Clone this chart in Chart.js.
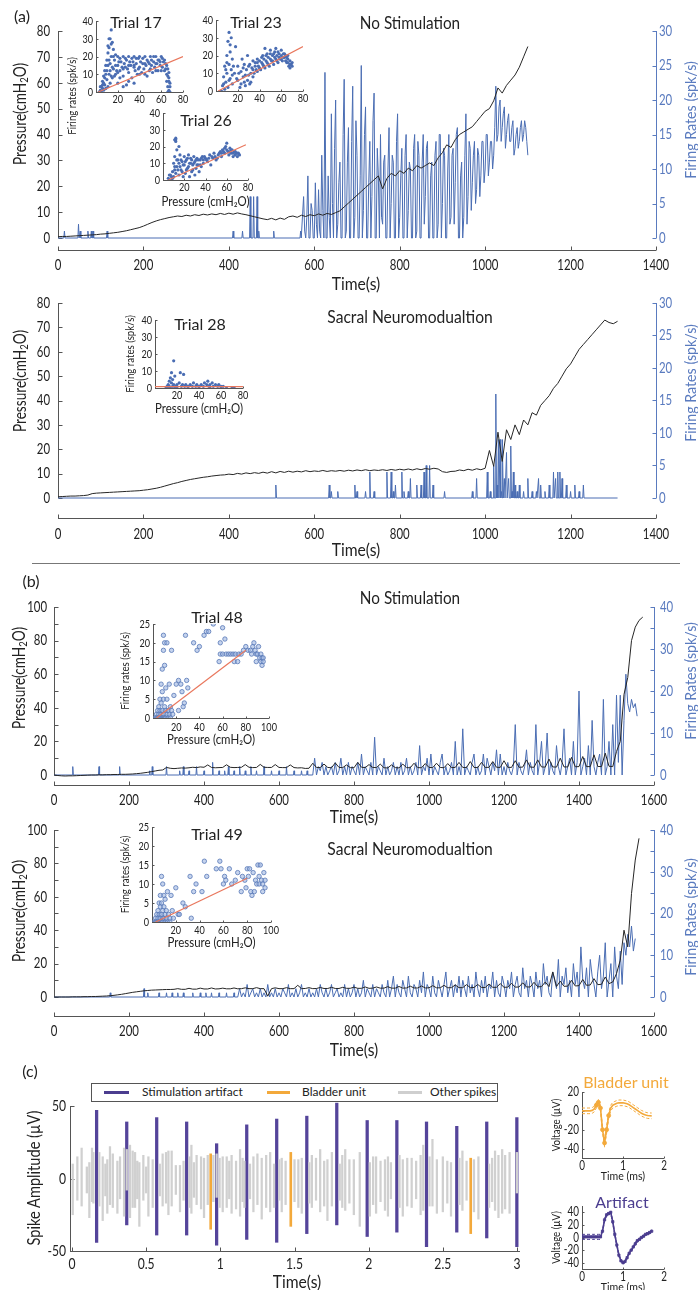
<!DOCTYPE html>
<html><head><meta charset="utf-8">
<script src="https://cdn.jsdelivr.net/npm/chart.js@4.4.1/dist/chart.umd.min.js"></script>
<style>
html,body{margin:0;padding:0;background:#fff;}
body{position:relative;width:698px;height:1290px;overflow:hidden;font-family:Lato,sans-serif;color:#222;}
canvas{position:absolute;}
.t{position:absolute;white-space:nowrap;line-height:1;transform:translate(-50%,-50%) scaleX(var(--k,1));}
.r{transform:translate(-50%,-50%) rotate(-90deg) scaleX(var(--k,1));}
sub{font-size:70%;vertical-align:-0.25em;line-height:0;}
#sep{position:absolute;left:32px;top:563px;width:648px;height:1px;background:#777;}
#leg{position:absolute;left:91px;top:1083px;width:405px;height:17px;border:1px solid #555;}
.lg{position:absolute;top:7px;height:3px;}
.lt{position:absolute;top:2px;font-size:12px;line-height:1;}
</style></head><body>
<div id="sep"></div>
<div id="leg">
 <div class="lg" style="left:12px;width:25px;background:#4b3d8f"></div><div class="lt" style="left:50px">Stimulation artifact</div>
 <div class="lg" style="left:175px;width:23px;background:#f3a93b"></div><div class="lt" style="left:210px">Bladder unit</div>
 <div class="lg" style="left:306px;width:24px;background:#cfcfcf"></div><div class="lt" style="left:338px">Other spikes</div>
</div>
<script>
const F = "Lato, sans-serif";
const KNUM = 0.76, KTXT = 0.88;   // horizontal text condensing for canvas labels
const AX = '#555', BLUE_AX = '#5a7bbf', BLACK = '#262626', BLUE = '#4a6db3', RED = '#e9775d', DOT = '#4a6db3';
const ORANGE = '#f3a93b', PURPLE = '#4b3d8f', GRAY = '#d0d0d0';

// ---------------- tick labels ----------------
const A_X_TICKS = [0,200,400,600,800,1000,1200,1400];
const A_P_TICKS = [0,10,20,30,40,50,60,70,80];
const A_R_TICKS = [0,5,10,15,20,25,30];
const B_X_TICKS = [0,200,400,600,800,1000,1200,1400,1600];
const B_P_TICKS = [0,20,40,60,80,100];
const B_P_MARKS = [0,10,20,30,40,50,60,70,80,90,100];
const B_R_TICKS = [0,10,20,30,40];
const B_R_MARKS = [0,5,10,15,20,25,30,35,40];
const C_X_TICKS = [0,0.5,1,1.5,2,2.5,3];
const C_Y_TICKS = [-50,0,50];
const INA_X = [20,40,60,80], INA_Y = [0,10,20,30,40];
const INB_X = [20,40,60,80,100], INB_Y = [0,5,10,15,20,25];
const W_X_TICKS = [0,1,2], BL_Y_TICKS = [-40,-20,0,20], AR_Y_TICKS = [-40,-20,0,20,40];

// ---------------- (a) No stimulation ----------------
const A1_PRESSURE = [ // every 10 s from 0
0.5,0.6,0.6,0.7,0.8,0.9,1.0,1.1,1.2,1.3, 1.5,1.6,1.8,2.0,2.2,2.5,2.8,3.2,3.6,4.0,
4.6,5.3,6.0,6.6,7.1,7.5,7.9,8.2,8.5,8.3, 8.8,8.5,9.0,8.7,9.2,8.9,9.3,9.0,9.5,9.1,
9.6,9.2,9.7,9.3,9.0,8.6,8.2,7.8,7.4,7.1, 7.6,7.0,7.7,7.2,8.2,8.5,8.0,8.8,8.3,9.0,
8.6,9.3,8.8,9.5,9.1,9.8,10.5,12,13.5,15, 16.5,18,19.5,21,22.5,24,19,23,25,24,
26,25,27,26,28,27,28,29,28,31, 33,36,35,38,40,41,42,43,45,47,
49,50,53,58,56,59,61,63,66,70, 74];
const A1_RATE_SPIKES = [[15,1],[48,2],[52,1],[70,1],[78,1],[82,1],[115,1],[410,1],[432,1],[450,6],[458,6],[466,6],[470,1],[505,1],[568,1]];
const A1_RATE_DENSE = [ // every 2.5 s from 575
6,1,0,3,9,0,0,5,4,0, 0,8,2,0,7,1,0,12,4,0,
24,0,0,9,3,0,18,5,0,13, 20,0,2,8,11,0,0,15,23,0,
1,11,16,0,0,14,22,0,3,17, 12,0,0,9,25,0,4,15,19,0,
0,8,14,0,6,17,21,0,0,13, 9,0,15,3,2,11,12,0,0,10,
16,0,5,12,11,0,0,14,18,0, 3,9,13,0,0,12,15,0,4,11,
10,0,0,13,15,0,1,14,12,0, 0,11,15,2,6,13,14,0,0,9,
11,0,0,12,14,0,2,15,15,0, 5,13,12,0,0,10,15,2,3,12,
13,2,8,15,16,0,0,9,11,0, 3,12,18,2,6,14,13,4,8,12,
14,5,7,13,12,6,9,14,14,8, 10,15,15,9,11,14,14,10,12,16,
22,14,15,19,20,14,16,18,19,13, 15,17,18,14,14,16,17,12,13,15,
16,13,14,16,17,14,15,17,16,14, 12];

// ---------------- (a) Sacral neuromodulation ----------------
const A2_PRESSURE = [ // every 10 s from 0
0.5,0.6,0.7,0.8,0.8,0.9,1.0,1.2,1.8,2.0, 2.1,2.2,2.3,2.4,2.5,2.6,2.7,2.8,2.9,3.0,
3.2,3.4,3.7,4.0,4.4,4.9,5.4,5.9,6.3,6.8, 7.2,7.6,7.9,8.2,8.5,8.7,9.0,9.2,9.4,9.5,
9.8,9.6,10.1,9.8,10.3,10.0,10.4,10.1,10.6,10.2, 10.8,10.3,10.9,10.5,11.0,10.6,11.0,10.7,11.2,10.8,
11.1,10.9,11.3,10.9,11.2,11.0,11.3,11.0,11.4,11.1, 11.5,11.2,11.6,11.2,11.5,11.3,11.6,11.3,11.7,11.4,
11.8,11.5,11.9,11.5,12.0,11.6,12.1,11.8,12.2,11.9, 10.8,10.5,10.9,11.0,11.5,11.2,11.8,11.4,12.0,11.6,
12.2,19.5,13,27,15,28,24,30,26,32, 30,35,34,38,40,42,45,47,50,53,
55,58,61,63,65,67,69,71,73,72, 71.5,72.5];
const A2_RATE_SPIKES = [[510,2],[635,2],[640,1],[655,1],[695,2],[700,1],[720,1],[730,4],[740,1],[770,4],[780,4],[785,1],[790,2],[805,4],[810,1],[820,1],[825,3],[840,2],[850,2],[857,4],[862,5],[870,5],[878,2],[905,1],[970,1],[980,3],[1005,4],[1012,1],[1020,5],[1025,16],[1028,2],[1031,9],[1035,9],[1038,1],[1041,9],[1045,3],[1050,7],[1055,3],[1060,8],[1063,1],[1066,4],[1070,2],[1075,1],[1080,2],[1090,1],[1100,3],[1110,1],[1120,1],[1125,3],[1130,2],[1140,1],[1150,2],[1160,4],[1165,3],[1170,4],[1175,4],[1180,3],[1190,2],[1200,1],[1210,2],[1220,1],[1230,2]];
const A2_RATE_END = 1310;

// ---------------- (b) No stimulation ----------------
const B1_PRESSURE = [ // every 10 s from 0
0,-0.3,-0.5,-0.6,-0.5,-0.5,-0.4,-0.3,-0.2,-0.1, 0,0,0.1,0.1,0.2,0.2,0.3,0.3,0.4,0.4,
0.5,0.6,0.8,1.0,1.3,1.6,2.0,2.4,2.8,3.0, 4.5,4.0,3.8,4.0,4.2,4.1,4.3,4.6,4.4,4.8,
4.6,6.0,4.5,4.3,4.4,4.5,6.1,4.6,4.4,4.5, 4.6,6.2,4.6,4.4,4.5,6.3,4.6,4.5,4.5,6.2,
4.5,4.4,4.4,6.0,4.4,4.2,4.3,3.9,4.0,7.0, 4.5,4.4,6.5,4.5,4.3,7.2,4.5,4.4,6.0,4.4,
4.3,7.5,4.6,4.4,6.2,4.5,4.4,6.5,4.3,4.2, 6.0,4.4,4.2,6.5,4.4,4.3,7.0,4.4,4.3,6.8,
4.5,4.4,7.0,4.5,4.3,6.8,4.4,4.5,7.5,4.5, 4.4,8.0,4.5,4.4,7.5,4.5,4.6,8.0,4.6,4.5,
8.5,4.6,4.5,8.5,4.6,4.7,9.0,4.7,4.6,9.0, 4.8,4.7,9.5,4.8,4.7,10,4.8,4.8,10.5,4.9,
5.0,11,5.0,5.0,12,5.1,5.0,13,5.2,5.0, 14,20,48,58,80,88,92,94];
const B1_RATE_SPIKES = [[50,2],[120,2],[175,2],[255,1],[262,2],[300,2],[335,1],[345,2],[360,1],[380,2],[400,1],[423,3],[440,1],[455,1],[465,2],[480,1],[495,2],[510,1],[525,2],[540,1],[560,2],[580,1],[600,1],[620,2],[640,1],[660,1],[675,1]];
const B1_RATE_DENSE = [ // every 5 s from 690
0,4,0,2,1,3,0,2,0,1, 2,0,3,0,1,4,0,2,0,3,
0,2,1,0,3,0,5,0,2,1, 0,3,0,9,0,2,1,0,4,0,
2,0,1,3,0,2,0,3,0,1, 4,0,2,0,1,3,0,7,0,2,
1,4,0,5,0,2,1,0,3,5, 0,2,0,1,3,0,8,0,2,0,
11,0,2,1,0,3,5,0,2,0, 1,5,0,4,2,0,3,1,6,0,
5,0,2,0,3,1,0,2,12,0, 3,1,0,2,6,0,3,1,0,12,
0,3,8,0,2,10,0,3,1,0, 7,2,0,3,11,0,2,4,0,8,
0,3,20,0,2,4,0,7,0,13, 2,0,3,5,0,18,0,2,8,0,
12,0,19,3,19,0,13,24,17,15,18,16,17,14];

// ---------------- (b) Sacral neuromodulation ----------------
const B2_PRESSURE = [ // every 10 s from 0
0,0,0,0,0,0.1,0.1,0.1,0.2,0.2, 0.3,0.3,0.4,0.5,0.6,0.8,1.0,1.3,1.6,2.0,
2.4,2.8,3.1,3.4,3.7,3.9,4.1,4.2,4.3,4.4, 4.5,4.5,4.6,5.0,4.6,4.6,5.2,4.7,4.7,5.3,
4.8,4.8,5.4,4.8,4.9,5.3,4.9,4.9,5.4,4.9, 5.0,5.5,5.0,5.0,5.6,5.0,5.0,0.5,5.0,5.5,
5.0,5.0,5.6,5.0,5.0,7.0,5.0,5.1,5.6,5.0, 5.1,5.7,5.1,5.1,5.8,5.1,5.1,5.8,5.2,5.2,
5.9,5.2,5.2,6.0,5.2,5.3,6.0,5.3,5.3,6.2, 5.3,5.3,6.3,5.3,5.4,6.5,5.4,5.4,6.6,5.4,
5.5,6.8,5.5,5.5,7.0,5.5,5.6,7.2,5.6,5.6, 7.4,5.6,5.7,7.5,5.7,5.7,7.8,5.8,5.8,8.0,
5.8,5.9,8.2,5.9,6.0,8.5,6.0,6.0,8.8,6.1, 6.2,9.0,6.2,15,6.3,9.5,6.4,6.5,10,6.6,
6.8,10.5,7.0,7.2,11,7.4,7.6,12,8,9, 14,22,40,30,62,82,95];
const B2_RATE_SPIKES = [[150,1],[240,2],[250,1],[280,1],[300,1],[315,1],[330,1],[345,1],[370,1],[390,1],[405,1],[420,1],[440,1],[460,1],[480,1]];
const B2_RATE_DENSE = [ // every 5 s from 490
0,2,0,1,0,3,0,1,2,0, 1,0,2,0,1,0,3,0,1,0,
2,0,1,0,2,1,0,3,0,1, 0,2,0,1,3,0,1,0,2,0,
1,0,2,0,3,1,0,2,0,1, 3,0,1,2,0,1,0,3,0,2,
0,1,3,0,2,0,1,4,0,2, 1,0,3,0,2,1,0,3,1,0,
4,0,2,5,0,3,1,0,4,2, 0,5,1,0,3,2,0,4,1,6,
0,3,2,0,5,1,0,4,2,0, 3,6,0,2,4,0,3,1,5,0,
4,2,0,5,1,3,0,6,2,0, 4,1,5,0,3,2,6,0,4,1,
0,5,3,0,4,2,6,0,3,5, 1,0,7,2,4,0,5,3,0,6,
2,4,0,8,3,5,1,0,6,4, 2,9,0,5,3,7,1,4,0,8,
3,6,0,12,4,2,7,0,9,5, 3,0,6,10,2,5,13,0,4,8,
0,12,5,2,11,3,13,10,15,12,17,11,14];

// ---------------- insets: [pressure, firing rate] ----------------
const T17_PTS = [[3,0],[4,1],[5,0],[5,3],[6,2],[6,6],[7,1],[7,9],[8,4],[8,12],[9,2],[9,15],[10,7],[10,18],[11,3],[11,22],[12,10],[12,25],[13,5],[13,30],[13,16],[14,35],[14,20],[15,8],[15,28],[16,13],[16,24],[17,18],[18,10],[18,21],
[20,15],[20,20],[22,12],[23,17],[25,20],[25,9],[27,14],[28,18],[30,11],[30,20],[32,15],[33,8],[34,17],[35,20],[36,12],[37,16],[38,10],[39,19],[40,14],[40,20],[42,11],[43,16],[44,13],[45,20],[46,15],[47,9],[48,17],[49,12],[50,20],[51,15],[52,11],[53,17],[54,14],[55,20],[56,16],[57,12],[58,18],[59,15],[60,20],[61,14],[62,17],[63,12],[64,16],
[65,10],[65,6],[66,13],[66,3],[67,8],[67,1],[68,5],[68,0],[66,0],[67,11],[65,15],[20,5],[25,3],[30,6],[35,5],[22,8],[28,4],
[4,3],[6,4],[7,5],[8,8],[9,10],[10,12],[11,15],[12,18],[13,12],[14,9],[15,14],[16,20],[17,9],[18,15],[19,12],[21,17],[22,19],[24,14],[26,16],[27,19],[29,13],[31,17],[33,19],[35,15],[37,19],[39,13],[41,17],[43,19],[45,16],[47,18],[49,16],[51,18],[53,20],[55,16],[57,18],[59,17],[61,19],[63,18],[64,13],[66,9],[67,6],[68,3],[60,12],[55,12],[50,13],[45,10],[40,10],[35,14],[30,15],[25,13],[20,11],[12,30],[11,26],[14,27]];
const T17_FIT = [[2,0],[80,20]];
const T23_PTS = [[5,0],[6,3],[7,8],[8,1],[8,14],[9,5],[10,20],[10,10],[11,2],[11,28],[12,15],[12,33],[13,7],[13,22],[14,30],[14,12],[15,4],[15,18],[17,10],[18,25],[20,6],[20,14],[22,2],[23,11],[24,18],[25,8],[26,15],[27,3],[28,12],[29,20],[30,9],[31,15],[32,5],[33,13],[34,17],[35,10],[36,16],[37,12],[38,18],[39,14],[40,17],[41,12],[42,19],[43,15],[44,18],[45,13],[46,20],[47,16],[48,19],[49,14],[50,21],[51,17],[52,20],[53,15],[54,22],[55,18],[56,20],[57,16],[58,21],[59,18],[60,20],[61,17],[62,21],[63,19],[64,20],[65,16],[66,18],[67,14],[68,17],[69,15],[70,16],[68,13],[66,20],[60,23],[55,24],[50,23],[45,24],
[7,4],[9,12],[10,16],[12,6],[13,26],[15,9],[16,14],[19,7],[21,10],[23,4],[25,13],[27,9],[29,6],[30,14],[32,10],[34,12],[36,14],[38,11],[40,13],[42,16],[44,14],[46,17],[48,15],[50,18],[52,17],[54,19],[56,17],[58,19],[60,18],[62,19],[64,17],[66,16],[68,15],[70,14],[65,19],[63,21],[57,22],[53,21],[47,21],[43,20],[38,16],[34,8],[31,4],[26,5]];
const T23_FIT = [[2,0],[80,25]];
const T26_PTS = [[5,1],[6,0],[7,3],[8,0],[9,5],[10,2],[10,10],[11,14],[11,6],[12,23],[12,25],[13,18],[13,8],[14,12],[15,3],[15,20],[16,15],[17,6],[18,11],[19,2],[20,9],[20,14],[21,4],[22,12],[23,7],[24,15],[25,2],[25,10],[26,13],[27,5],[28,9],[29,14],[30,3],[30,11],[31,7],[32,13],[33,9],[34,5],[35,12],[36,8],[37,14],[38,10],[40,13],[42,11],[44,15],[45,9],[47,13],[48,16],[50,12],[52,15],[54,17],[55,14],[56,18],[58,16],[59,20],[60,22],[61,17],[62,15],[63,19],[64,16],[65,18],[66,14],[67,17],[68,15],[69,16],[70,14],[71,16],[72,15],
[6,3],[8,2],[9,1],[11,8],[12,4],[13,12],[14,6],[15,10],[16,8],[17,12],[18,5],[19,9],[21,11],[22,6],[23,13],[24,8],[26,10],[27,12],[28,6],[29,10],[31,12],[32,9],[33,12],[35,9],[36,13],[38,12],[39,14],[41,12],[43,13],[46,14],[49,14],[51,13],[53,16],[55,16],[57,17],[58,19],[60,18],[62,17],[64,18],[66,16],[68,17],[70,16],[12,24],[11,24]];
const T26_FIT = [[5,0],[78,21]];
const T28_PTS = [[10,0],[11,1],[12,0],[12,2],[13,1],[13,4],[14,0],[14,6],[15,3],[15,9],[16,1],[16,5],[17,16],[17,2],[18,0],[18,7],[19,1],[20,2],[22,3],[23,9],[24,1],[25,2],[26,8],[27,1],[28,2],[30,1],[32,2],[34,1],[35,3],[37,1],[38,2],[40,1],[42,2],[44,1],[45,3],[47,2],[48,4],[49,1],[50,2],[52,3],[53,1],[55,2],[57,1],[58,2],[60,1],[62,1],[65,0],[70,0],[72,0],[20,0],[30,0],[40,0],[50,0],[60,0]];
const T28_FIT = [[0,0.8],[80,0.8]];
const T48_PTS = [[2,0],[3,1],[3,0],[4,2],[4,0],[5,1],[5,3],[5,0],[6,2],[6,5],[6,0],[7,1],[7,4],[7,9],[7,0],[8,2],[8,7],[8,13],[8,0],[9,1],[9,5],[9,18],[9,22],[9,0],[10,3],[10,14],[10,20],[10,0],[11,2],[11,8],[11,0],[12,1],[12,5],[12,20],[13,0],[13,2],[14,9],[14,1],[15,3],[15,0],[16,18],[16,2],[17,1],[18,6],[20,9],[22,10],[22,2],[24,9],[25,7],[26,3],[27,4],[28,22],[29,10],[30,8],
[35,20],[38,18],[40,19],[44,22],[46,23],[48,23],[52,25],[57,15],[58,17],[58,20],[60,24],[62,21],[60,17],[63,17],[65,17],[67,17],[69,17],[70,15],[71,17],[73,15],[74,17],[76,17],[78,18],[80,19],[82,18],[84,18],[85,17],[86,19],[87,20],[88,18],[89,17],[89,15],[90,17],[91,19],[92,16],[93,17],[93,15],[94,16],[94,14],[95,15],[95,16]];
const T48_FIT = [[3,0],[80,18]];
const T49_PTS = [[2,0],[3,1],[3,0],[4,2],[4,0],[5,1],[5,3],[5,0],[6,2],[6,5],[6,0],[7,1],[7,4],[7,7],[7,0],[8,2],[8,5],[8,12],[8,0],[9,1],[9,3],[9,10],[9,0],[10,4],[10,7],[10,1],[11,2],[11,6],[11,0],[12,3],[12,1],[13,8],[13,0],[14,2],[15,1],[15,0],[16,7],[17,3],[18,1],[20,9],[22,2],[23,2],[26,5],[28,4],[32,12],[33,1],[35,8],[37,10],[42,8],[44,16],[46,12],[54,14],[57,16],[58,14],[60,10],[61,12],[62,11],[65,14],[67,10],[70,11],[72,13],[75,8],[76,12],[78,11],[79,9],[80,14],[81,12],[82,14],[83,8],[84,7],[85,13],[86,8],[87,11],[88,10],[89,15],[90,12],[90,10],[91,15],[92,11],[93,8],[93,10],[94,13],[95,11],[95,9]];
const T49_FIT = [[3,0],[80,11.5]];

// ---------------- (c) spikes: [time s, min uV, max uV] ----------------
const ART_SPIKES = [[0.166,-44,47],[0.369,-32,39],[0.571,-39,42],[0.773,-39,39],[0.975,-46,24],[1.178,-42,37],[1.380,-44,41],[1.583,-38,43],[1.785,-32,52],[1.990,-40,40],[2.190,-37,40],[2.390,-47,39],[2.594,-37,36],[2.796,-41,39],[2.999,-47,42]];
const BLAD_SPIKES = [[0.935,-35,17],[1.475,-33,18],[2.688,-38,14]];
const OTHER_SPIKES = [[0.005,-25,10],[0.036,-15,15],[0.065,-19,21],[0.100,-10,8],[0.117,-27,11],[0.135,-16,21],[0.144,-17,18],[0.184,-19,18],[0.207,-29,15],[0.225,-12,10],[0.238,-24,13],[0.256,-18,22],[0.275,-20,17],[0.306,-24,12],[0.324,-14,15],[0.351,-26,21],[0.369,-8,20],[0.391,-27,23],[0.409,-20,19],[0.425,-20,18],[0.440,-14,12],[0.454,-33,11],[0.481,-15,16],[0.500,-10,8],[0.515,-26,15],[0.544,-20,13],[0.592,-12,10],[0.611,-19,17],[0.634,-17,18],[0.650,-25,19],[0.672,-19,19],[0.700,-11,9],[0.728,-23,9],[0.752,-15,12],[0.792,-20,15],[0.805,-24,23],[0.822,-13,11],[0.840,-18,16],[0.870,-21,15],[0.890,-27,14],[0.915,-18,16],[0.953,-16,16],[0.975,-13,17],[0.995,-20,14],[1.016,-23,15],[1.043,-20,15],[1.060,-14,12],[1.076,-24,16],[1.106,-21,12],[1.133,-26,20],[1.150,-16,14],[1.162,-20,12],[1.200,-14,10],[1.223,-23,15],[1.250,-18,17],[1.279,-28,14],[1.309,-20,16],[1.336,-23,18],[1.362,-20,10],[1.398,-15,13],[1.414,-23,14],[1.440,-18,12],[1.500,-16,13],[1.526,-20,13],[1.549,-24,14],[1.600,-17,11],[1.617,-20,16],[1.645,-15,14],[1.673,-23,20],[1.700,-19,12],[1.722,-29,13],[1.752,-19,18],[1.805,-15,10],[1.822,-20,16],[1.842,-22,20],[1.870,-17,13],[1.900,-25,13],[1.940,-33,18],[2.008,-26,11],[2.030,-18,15],[2.050,-24,15],[2.080,-16,12],[2.110,-22,13],[2.130,-26,15],[2.150,-14,11],[2.208,-20,16],[2.230,-26,13],[2.260,-19,14],[2.290,-20,14],[2.320,-14,12],[2.350,-25,16],[2.368,-22,23],[2.410,-19,15],[2.430,-19,27],[2.460,-24,13],[2.500,-23,15],[2.530,-17,12],[2.555,-26,11],[2.612,-18,14],[2.632,-22,19],[2.660,-15,12],[2.710,-23,13],[2.740,-28,15],[2.812,-20,10],[2.832,-16,14],[2.852,-22,19],[2.875,-27,16],[2.900,-24,20],[2.920,-21,16],[2.950,-24,18],[2.999,-10,18]];

// ---------------- (c) waveforms ----------------
const WAVE_T = [0,0.05,0.1,0.15,0.2,0.25,0.3,0.35,0.4,0.45,0.5,0.55,0.6,0.65,0.7,0.75,0.8,0.85,0.9,0.95,1,1.05,1.1,1.15,1.2,1.25,1.3,1.35,1.4,1.45,1.5,1.55,1.6,1.65,1.7];
const BLADDER_MEAN = [0,0,0,0,0,0.5,2,6,9,3,-20,-34,-20,-5,3,6,7,8,8.5,8.5,8.5,8,7.5,6.5,5,3.5,2,0.5,-1,-2.5,-3.5,-4.5,-5,-5.2,-5.3];
const BLADDER_SD = [3,3,3,3,3,3,3,3,3,3,3,4,4,3,3,3,3,3,3,3,3,3,3,3,3,3,3,3,3,3,3,3,3,3,3];
const ART_MEAN = [1,1,1,1,1,1,1,1,1,1,10,28,36,38,40,25,5,-12,-28,-37,-40,-38,-32,-25,-20,-15,-10,-5,-3,0,2,5,6,8,10];
const ART_SD = [4,4,4,4,4,4,4,4,4,4,2,2,2,2,2,2,2,2,2,2,2,2,2,2,2,2,2,2,2,2,2,2,2,2,2];

// ================= helpers =================
const condense = {
  id: 'condense',
  beforeInit(chart) {
    const ctx = chart.ctx;
    if (ctx.__condensed) return;
    const orig = ctx.fillText.bind(ctx);
    ctx.fillText = function (text, x, y) {
      const k = /^[-\d.]+$/.test(String(text)) ? KNUM : KTXT;
      this.save(); this.translate(x, y); this.scale(k, 1); orig(text, 0, 0); this.restore();
    };
    ctx.__condensed = true;
  }
};
const AXES = {};
const mAxes = {
  id: 'mAxes',
  beforeDatasetsDraw(chart) {
    const list = AXES[chart.canvas.id]; if (!list) return;
    const ctx = chart.ctx; ctx.save();
    for (const a of list) {
      const s = chart.scales[a.id]; if (!s) continue;
      ctx.strokeStyle = a.color || AX; ctx.lineWidth = 1; ctx.beginPath();
      const L = a.len || 4;
      if (s.isHorizontal()) {
        const y = Math.round(s.top) + 0.5;
        ctx.moveTo(s.getPixelForValue(a.from), y); ctx.lineTo(s.getPixelForValue(a.to), y);
        for (const v of a.marks) { const x = Math.round(s.getPixelForValue(v)) + 0.5; ctx.moveTo(x, y); ctx.lineTo(x, y - L); }
      } else {
        const left = s.position === 'left';
        const x = Math.round(left ? s.right : s.left) + 0.5;
        ctx.moveTo(x, s.getPixelForValue(a.from)); ctx.lineTo(x, s.getPixelForValue(a.to));
        for (const v of a.marks) { const y = Math.round(s.getPixelForValue(v)) + 0.5; ctx.moveTo(x, y); ctx.lineTo(left ? x + L : x - L, y); }
      }
      ctx.stroke();
    }
    ctx.restore();
  }
};
Chart.register(condense, mAxes);

function valAt(v1, p1, v2, p2, p) { return v1 + (p - p1) * (v2 - v1) / (p2 - p1); }

function scale(o) {
  return {
    type: 'linear', position: o.pos, min: o.min, max: o.max, bounds: 'data', offset: false,
    grid: { display: false, drawTicks: false, offset: false }, border: { display: false },
    afterBuildTicks: sc => { sc.ticks = o.ticks.map(v => ({ value: v })); },
    ticks: { autoSkip: false, maxRotation: 0, minRotation: 0, padding: o.pad ?? 4, color: o.color || '#222',
             font: { family: F, size: o.fs || 15 }, callback: v => String(v) },
    title: o.title ? { display: true, text: o.title, color: '#222', font: { family: F, size: o.tfs || 12 }, padding: o.tpad ?? 0 } : { display: false }
  };
}

function makeChart(id, box, area, cfg, axes) {
  const c = document.createElement('canvas'); c.id = id;
  c.width = box.w; c.height = box.h;
  Object.assign(c.style, { left: box.l + 'px', top: box.t + 'px', width: box.w + 'px', height: box.h + 'px' });
  document.body.appendChild(c);
  AXES[id] = axes;
  const sc = cfg.options.scales;
  const hasRight = Object.values(sc).some(s => s.position === 'right');
  cfg.options.layout = { padding: { left: 0, top: area.t - box.t, right: hasRight ? 0 : (box.l + box.w - area.r), bottom: 0 } };
  for (const k in sc) {
    const s = sc[k];
    if (s.position === 'bottom') s.afterFit = q => { q.height = box.t + box.h - area.b; q.paddingLeft = 0; q.paddingRight = 0; };
    else if (s.position === 'left') s.afterFit = q => { q.width = area.l - box.l; q.paddingTop = 0; q.paddingBottom = 0; };
    else if (s.position === 'right') s.afterFit = q => { q.width = box.l + box.w - area.r; q.paddingTop = 0; q.paddingBottom = 0; };
  }
  cfg.options.responsive = false; cfg.options.animation = false; cfg.options.events = [];
  cfg.options.plugins = Object.assign({ legend: { display: false }, tooltip: { enabled: false } }, cfg.options.plugins || {});
  return new Chart(c, cfg);
}

function stepSeries(arr, t0, dt) { return arr.map((v, i) => ({ x: t0 + i * dt, y: v })); }
function rateSeries(spikes, dense, t0, dt, tEnd) {
  const pts = [{ x: 0, y: 0 }];
  for (const [t, v] of spikes) pts.push({ x: t - 1.5, y: 0 }, { x: t, y: v }, { x: t + 1.5, y: 0 });
  if (dense) dense.forEach((v, i) => pts.push({ x: t0 + i * dt, y: v }));
  if (tEnd) pts.push({ x: tEnd, y: 0 });
  return pts;
}

function tsChart(id, box, area, o) {
  const yMin = valAt(o.yMax, area.t, 0, o.zero, area.b);
  const y2Min = valAt(o.y2Max, area.t, 0, o.zero, area.b);
  const cfg = { type: 'line', data: { datasets: [
      { data: o.press, yAxisID: 'y', borderColor: BLACK, borderWidth: 1, pointRadius: 0, tension: 0, order: 0 },
      { data: o.rate, yAxisID: 'y2', borderColor: BLUE, borderWidth: 1, pointRadius: 0, tension: 0, order: 1 }] },
    options: { scales: {
      x: scale({ pos: 'bottom', min: 0, max: o.xMax, ticks: o.xTicks, pad: o.xPad, fs: 15 }),
      y: scale({ pos: 'left', min: yMin, max: o.yMax, ticks: o.yTicks, pad: o.yPad || 8, fs: 15 }),
      y2: scale({ pos: 'right', min: y2Min, max: o.y2Max, ticks: o.y2Ticks, pad: o.y2Pad || 3, fs: 15, color: BLUE_AX })
    } } };
  return makeChart(id, box, area, cfg, [
    { id: 'x', from: 0, to: o.xMax, marks: o.xTicks },
    { id: 'y', from: 0, to: o.yMax, marks: o.yMarks || o.yTicks },
    { id: 'y2', from: 0, to: o.y2Max, marks: o.y2Marks || o.y2Ticks, color: BLUE_AX }]);
}

function inset(id, box, area, o) {
  const cfg = { type: 'scatter', data: { datasets: [
      { type: 'line', data: o.fit.map(p => ({ x: p[0], y: p[1] })), borderColor: RED, borderWidth: 1.2, pointRadius: 0, order: 0 },
      { data: o.pts.map(p => ({ x: p[0], y: p[1] })), pointRadius: o.open ? 2.2 : 1.6,
        pointBackgroundColor: o.open ? 'rgba(150,175,222,0.55)' : DOT, pointBorderColor: o.open ? '#5878b8' : DOT,
        pointBorderWidth: o.open ? 0.8 : 0, order: 1 }] },
    options: { scales: {
      x: scale({ pos: 'bottom', min: 0, max: o.xMax, ticks: o.xTicks, pad: o.xPad || 0, fs: 12, title: o.xTitle, tfs: 13, tpad: o.xtPad }),
      y: scale({ pos: 'left', min: 0, max: o.yMax, ticks: o.yTicks, pad: 3, fs: 12, title: o.yTitle, tfs: 11, tpad: o.ytPad })
    } } };
  return makeChart(id, box, area, cfg, [
    { id: 'x', from: 0, to: o.xMax, marks: o.xTicks, len: 2 },
    { id: 'y', from: 0, to: o.yMax, marks: o.yTicks, len: 2 }]);
}

function wave(id, box, area, o) {
  const mean = WAVE_T.map((t, i) => ({ x: t, y: o.mean[i] }));
  const up = WAVE_T.map((t, i) => ({ x: t, y: o.mean[i] + o.sd[i] }));
  const lo = WAVE_T.map((t, i) => ({ x: t, y: o.mean[i] - o.sd[i] }));
  const cfg = { type: 'line', data: { datasets: [
      { data: mean, borderColor: o.color, borderWidth: 1.6, pointStyle: o.pstyle, pointRadius: o.prad,
        pointBackgroundColor: o.color, pointBorderColor: o.color, pointBorderWidth: 0.8, tension: 0, order: 0 },
      { data: up, borderColor: o.color, borderWidth: 1, borderDash: [3, 2], pointRadius: 0, order: 1 },
      { data: lo, borderColor: o.color, borderWidth: 1, borderDash: [3, 2], pointRadius: 0, order: 1 }] },
    options: { scales: {
      x: scale({ pos: 'bottom', min: 0, max: 2, ticks: W_X_TICKS, pad: 0, fs: 13, title: 'Time (ms)', tfs: 12, tpad: 0 }),
      y: scale({ pos: 'left', min: o.yMin, max: o.yMax, ticks: o.yTicks, pad: 3, fs: 13, title: 'Voltage (µV)', tfs: 11, tpad: o.ytPad })
    } } };
  return makeChart(id, box, area, cfg, [
    { id: 'x', from: 0, to: 2, marks: W_X_TICKS, len: 2 },
    { id: 'y', from: o.yMin, to: o.yMax, marks: o.yTicks, len: 2 }]);
}

function txt(html, x, y, size, color, rot, k) {
  const d = document.createElement('div');
  d.className = 't' + (rot ? ' r' : '');
  d.innerHTML = html;
  Object.assign(d.style, { left: x + 'px', top: y + 'px', fontSize: size + 'px', color: color || '#222' });
  d.style.setProperty('--k', k || 1);
  document.body.appendChild(d);
}

// ================= (a) =================
tsChart('a1', { l: 0, t: 0, w: 698, h: 292 }, { l: 58, r: 656, t: 31, b: 250 }, {
  zero: 238, xMax: 1400, xTicks: A_X_TICKS, xPad: 6, yMax: 80, yTicks: A_P_TICKS, y2Max: 30, y2Ticks: A_R_TICKS,
  press: stepSeries(A1_PRESSURE, 0, 10), rate: rateSeries(A1_RATE_SPIKES, A1_RATE_DENSE, 575, 2.5) });
tsChart('a2', { l: 0, t: 285, w: 698, h: 273 }, { l: 58, r: 656, t: 303, b: 518 }, {
  zero: 498, xMax: 1400, xTicks: A_X_TICKS, xPad: 7, yMax: 80, yTicks: A_P_TICKS, y2Max: 30, y2Ticks: A_R_TICKS,
  press: stepSeries(A2_PRESSURE, 0, 10), rate: rateSeries(A2_RATE_SPIKES, null, 0, 0, A2_RATE_END) });

inset('t17', { l: 60, t: 8, w: 135, h: 100 }, { l: 96, r: 183, t: 21, b: 92 },
  { pts: T17_PTS, fit: T17_FIT, xMax: 80, yMax: 40, xTicks: INA_X, yTicks: INA_Y });
inset('t23', { l: 180, t: 7, w: 135, h: 100 }, { l: 216, r: 303, t: 20, b: 91 },
  { pts: T23_PTS, fit: T23_FIT, xMax: 80, yMax: 40, xTicks: INA_X, yTicks: INA_Y });
inset('t26', { l: 127, t: 100, w: 133, h: 112 }, { l: 163, r: 248, t: 113, b: 180 },
  { pts: T26_PTS, fit: T26_FIT, xMax: 80, yMax: 40, xTicks: INA_X, yTicks: INA_Y, xTitle: 'Pressure (cmH₂O)', xtPad: 2 });
inset('t28', { l: 108, t: 307, w: 147, h: 112 }, { l: 155, r: 243, t: 320, b: 388 },
  { pts: T28_PTS, fit: T28_FIT, xMax: 80, yMax: 40, xTicks: INA_X, yTicks: INA_Y, xTitle: 'Pressure (cmH₂O)', xtPad: 2, yTitle: 'Firing rates (spk/s)', ytPad: 16 });

// ================= (b) =================
tsChart('b1', { l: 0, t: 570, w: 698, h: 256 }, { l: 54, r: 654, t: 607, b: 785 }, {
  zero: 775, xMax: 1600, xTicks: B_X_TICKS, xPad: 6, yMax: 100, yTicks: B_P_TICKS, yMarks: B_P_MARKS, yPad: 7,
  y2Max: 40, y2Ticks: B_R_TICKS, y2Marks: B_R_MARKS, y2Pad: 6,
  press: stepSeries(B1_PRESSURE, 0, 10), rate: rateSeries(B1_RATE_SPIKES, B1_RATE_DENSE, 690, 5) });
tsChart('b2', { l: 0, t: 812, w: 698, h: 246 }, { l: 54, r: 654, t: 830, b: 1016 }, {
  zero: 997, xMax: 1600, xTicks: B_X_TICKS, xPad: 6, yMax: 100, yTicks: B_P_TICKS, yMarks: B_P_MARKS, yPad: 7,
  y2Max: 40, y2Ticks: B_R_TICKS, y2Marks: B_R_MARKS, y2Pad: 6,
  press: stepSeries(B2_PRESSURE, 0, 10), rate: rateSeries(B2_RATE_SPIKES, B2_RATE_DENSE, 490, 5) });

inset('t48', { l: 105, t: 611, w: 178, h: 139 }, { l: 153, r: 269, t: 624, b: 718 },
  { pts: T48_PTS, fit: T48_FIT, xMax: 100, yMax: 25, xTicks: INB_X, yTicks: INB_Y, open: true, xPad: 2,
    xTitle: 'Pressure (cmH₂O)', xtPad: 2, yTitle: 'Firing rates (spk/s)', ytPad: 14 });
inset('t49', { l: 104, t: 814, w: 181, h: 139 }, { l: 152, r: 271, t: 827, b: 922 },
  { pts: T49_PTS, fit: T49_FIT, xMax: 100, yMax: 25, xTicks: INB_X, yTicks: INB_Y, open: true, xPad: 1,
    xTitle: 'Pressure (cmH₂O)', xtPad: 2, yTitle: 'Firing rates (spk/s)', ytPad: 15 });

// ================= (c) =================
(function () {
  const box = { l: 0, t: 1075, w: 530, h: 215 }, area = { l: 70, r: 520, t: 1100, b: 1251 };
  const xMin = valAt(0, 72, 3, 517, area.l), xMax = valAt(0, 72, 3, 517, area.r);
  const yMax = valAt(50, 1106, -50, 1251, area.t);
  const bars = a => a.map(s => ({ x: s[0], y: [s[1], s[2]] }));
  const cfg = { type: 'bar', data: { datasets: [
      { label: 'Stimulation artifact', data: bars(ART_SPIKES), backgroundColor: '#54449a', barThickness: 2.6, grouped: false, order: 3 },
      { label: 'Bladder unit', data: bars(BLAD_SPIKES), backgroundColor: ORANGE, barThickness: 2, grouped: false, order: 1 },
      { label: 'Other spikes', data: bars(OTHER_SPIKES), backgroundColor: GRAY, barThickness: 1.6, grouped: false, order: 2 }] },
    options: { scales: {
      x: scale({ pos: 'bottom', min: xMin, max: xMax, ticks: C_X_TICKS, pad: 3, fs: 16 }),
      y: scale({ pos: 'left', min: -50, max: yMax, ticks: C_Y_TICKS, pad: 4, fs: 16 })
    } } };
  makeChart('c1', box, area, cfg, [
    { id: 'x', from: xMin, to: xMax, marks: C_X_TICKS },
    { id: 'y', from: -50, to: 50, marks: C_Y_TICKS }]);
})();

wave('bl', { l: 540, t: 1070, w: 158, h: 113 }, { l: 582, r: 664, t: 1092, b: 1158 },
  { mean: BLADDER_MEAN, sd: BLADDER_SD, color: ORANGE, yMin: -50, yMax: 20, yTicks: BL_Y_TICKS, ytPad: 10,
    pstyle: 'circle', prad: c => (WAVE_T[c.dataIndex] >= 0.35 && WAVE_T[c.dataIndex] <= 0.65) ? 2 : 0 });
wave('ar', { l: 540, t: 1196, w: 158, h: 98 }, { l: 582, r: 664, t: 1206, b: 1269 },
  { mean: ART_MEAN, sd: ART_SD, color: PURPLE, yMin: -50, yMax: 50, yTicks: AR_Y_TICKS, ytPad: 10,
    pstyle: 'rect', prad: 1.6 });

// ================= texts =================
txt('(a)', 22, 16, 16); txt('(b)', 31, 581, 16); txt('(c)', 30, 1071, 16);
txt('No Stimulation', 410, 22, 17, '#222', false, 0.9); txt('Sacral Neuromodualtion', 410, 316, 17, '#222', false, 0.92);
txt('No Stimulation', 410, 597, 17, '#222', false, 0.9); txt('Sacral Neuromodualtion', 410, 848, 17, '#222', false, 0.92);
txt('Trial 17', 136, 22, 16); txt('Trial 23', 256, 22, 16); txt('Trial 26', 206, 120, 16);
txt('Trial 28', 200, 324, 16); txt('Trial 48', 217, 617, 16); txt('Trial 49', 217, 834, 16);
txt('Firing rates (spk/s)', 71, 96, 11, '#222', true, 0.88);
[[19, 114], [19, 381], [18, 678], [18, 911]].forEach(p => txt('Pressure(cmH<sub>2</sub>O)', p[0], p[1], 17, '#222', true, 0.8));
[[690, 120], [690, 383], [690, 681], [690, 917]].forEach(p => txt('Firing Rates (spk/s)', p[0], p[1], 16, BLUE_AX, true, 0.89));
[[356, 283], [356, 549], [354, 816], [354, 1049], [297, 1281]].forEach(p => txt('Time(s)', p[0], p[1], 17, '#222', false, 0.92));
txt('Spike Amplitude (µV)', 33, 1178, 17, '#222', true, 0.86);
txt('Bladder unit', 626, 1082, 16, ORANGE); txt('Artifact', 622, 1202, 16, PURPLE);
</script></body></html>
